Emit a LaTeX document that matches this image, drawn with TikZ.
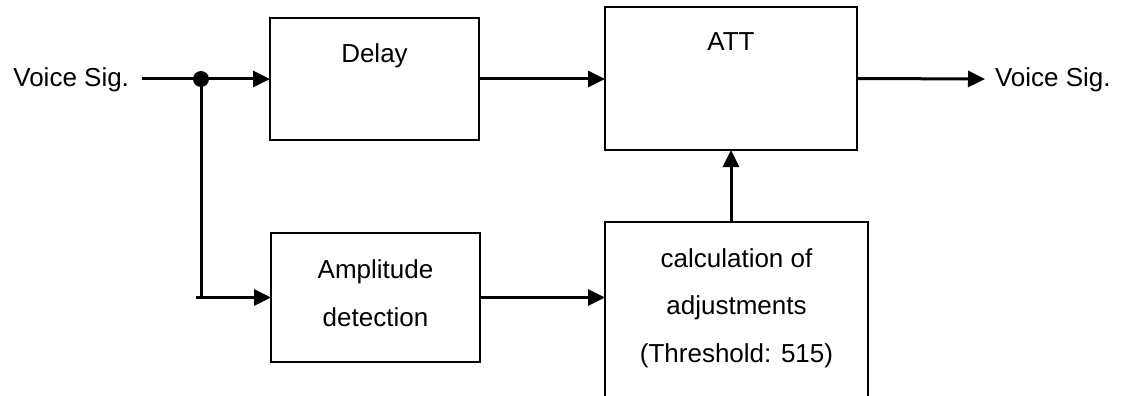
\documentclass[tikz,border=0pt]{standalone}
\usepackage{fontspec}
\setmainfont{Liberation Sans}
\usetikzlibrary{arrows.meta,calc}
\begin{document}
\begin{tikzpicture}[x=1pt,y=-1pt,
  box/.style={draw, line width=2pt, rectangle, inner sep=0pt, outer sep=0pt},
  txt/.style={inner sep=0pt, outer sep=0pt, font=\fontsize{26}{30}\selectfont},
  conn/.style={line width=3pt, -{Triangle[length=17pt,width=16pt]}},
  wire/.style={line width=3pt},
]
\useasboundingbox (0,0) rectangle (1122,396);
\clip (0,0) rectangle (1122,396);
% boxes
\node[box, minimum width=209pt, minimum height=122pt] (delay) at (374.5,79) {};
\node[box, minimum width=252pt, minimum height=143pt] (att) at (731,78.5) {};
\node[box, minimum width=209pt, minimum height=129pt] (amp) at (375.5,297.5) {};
\node[box, minimum width=263pt, minimum height=208pt] (calc) at (736.5,326) {};
% texts
\node[txt, anchor=base east] (vin) at (129,86) {Voice Sig.};
\node[txt, anchor=base west] (vout) at (995,86) {Voice Sig.};
\node[txt, anchor=base] (delaytxt) at (374.5,63) {Delay};
\node[txt, anchor=base] (atttxt) at (731,51) {ATT};
\node[txt, anchor=base] (amptxt1) at (375.5,278) {Amplitude};
\node[txt, anchor=base] (amptxt2) at (375.5,326) {detection};
\node[txt, anchor=base] (calctxt1) at (736.5,267) {calculation of};
\node[txt, anchor=base] (calctxt2) at (736.5,314) {adjustments};
\node[txt, anchor=base] (calctxt3) at (736.5,362) {(Threshold: 515)};
% coordinates
\coordinate (in) at (142,79);
\coordinate (junc) at (201,79);
\coordinate (out) at (985,79);
% connectors
\draw[conn] (in) -- (delay.west);
\draw[wire] (junc) -- (junc |- amp.west);
\draw[conn] ($(junc |- amp.west)+(-5,0)$) -- (amp.west);
\fill (junc) circle (8pt);
\draw[conn] (delay.east) -- (delay.east -| att.west);
\draw[conn] (att.east) -- (out);
\draw[conn] (amp.east) -- (amp.east -| calc.west);
\draw[conn] (att.south |- calc.north) -- (att.south);
\end{tikzpicture}
\end{document}
